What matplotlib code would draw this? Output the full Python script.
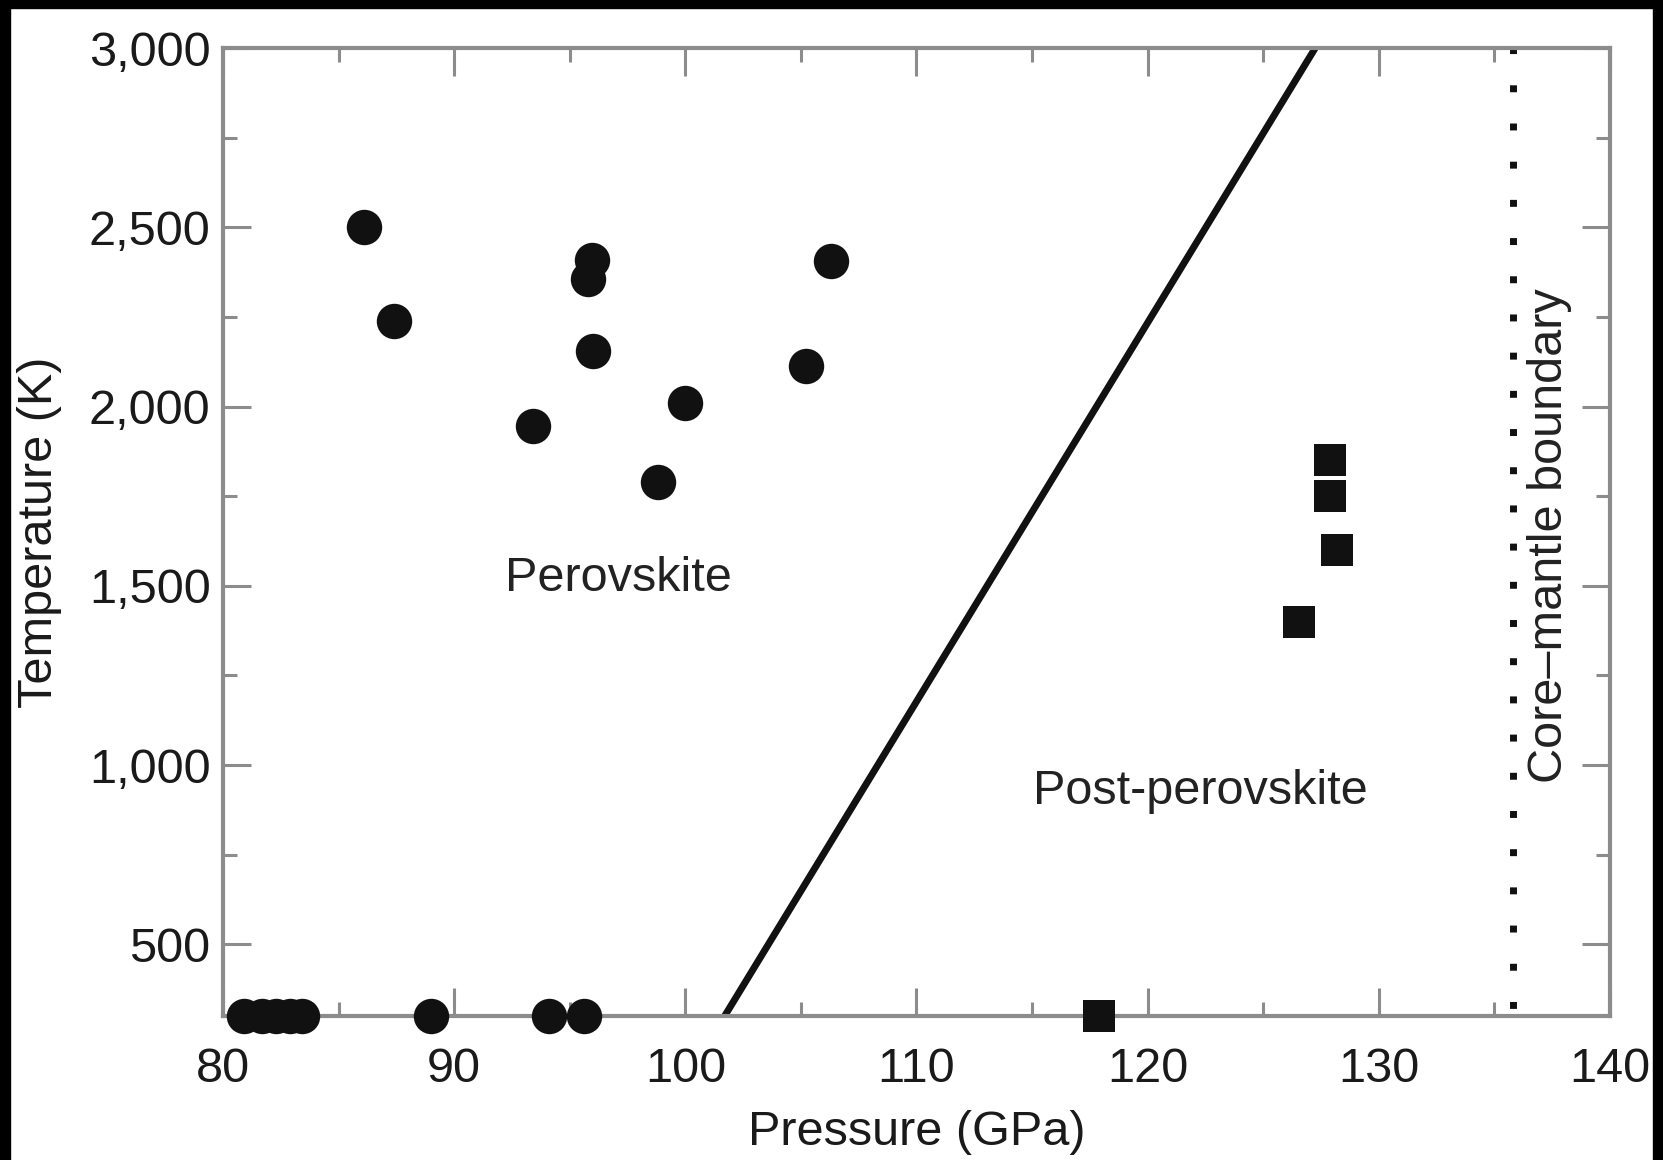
import matplotlib.pyplot as plt
from matplotlib.patches import Rectangle
from matplotlib.ticker import FuncFormatter, MultipleLocator

plt.rcParams["font.family"] = ["Liberation Sans", "DejaVu Sans"]

# Perovskite runs (circles)
pv_pressure = [86.1, 87.4, 95.95, 95.8, 96.0, 93.4, 100.0, 98.8, 105.2, 106.3,
               80.9, 81.7, 82.3, 82.9, 83.4, 89.0, 94.1, 95.6]
pv_temp = [2500, 2240, 2410, 2355, 2155, 1945, 2010, 1790, 2112, 2405,
           300, 300, 300, 300, 300, 300, 300, 300]

# Post-perovskite runs (squares)
ppv_pressure = [117.9, 126.55, 127.9, 127.9, 128.2]
ppv_temp = [300, 1400, 1850, 1750, 1600]

# Phase boundary and core-mantle boundary
boundary_pressure = [101.7, 127.25]
boundary_temp = [300, 3000]
cmb_pressure = 135.8

fig = plt.figure(figsize=(16.63, 11.6), dpi=100)
ax = fig.add_axes([0.1341, 0.1241, 0.8340, 0.8345])

gray = "#8c8c8c"

ax.plot(boundary_pressure, boundary_temp, color="#111111", lw=5,
        solid_capstyle="butt", zorder=2)
ax.plot([cmb_pressure, cmb_pressure], [3000, 300], color="#111111", lw=5,
        linestyle=(0.2, (1, 4.5)), dash_capstyle="butt", zorder=2)

ax.plot(pv_pressure, pv_temp, "o", color="#111111", ms=25.5, mew=0,
        clip_on=False, zorder=3)
ax.plot(ppv_pressure, ppv_temp, "s", color="#111111", ms=23, mew=0,
        clip_on=False, zorder=3)

ax.text(97.1, 1520, "Perovskite", fontsize=35, ha="center", va="center",
        color="#222222")
ax.text(122.3, 926, "Post-perovskite", fontsize=35, ha="center", va="center",
        color="#222222")
ax.text(137.4, 1640, "Core\u2013mantle boundary", fontsize=35, rotation=90,
        ha="center", va="center", color="#222222")

ax.set_xlim(80, 140)
ax.set_ylim(300, 3000)
ax.xaxis.set_major_locator(MultipleLocator(10))
ax.xaxis.set_minor_locator(MultipleLocator(5))
ax.yaxis.set_major_locator(MultipleLocator(500))
ax.yaxis.set_minor_locator(MultipleLocator(250))
ax.yaxis.set_major_formatter(FuncFormatter(lambda v, p: f"{int(v):,}"))

ax.tick_params(which="both", direction="in", top=True, right=True,
               color=gray, width=2.2, labelsize=35, labelcolor="#1a1a1a")
ax.tick_params(which="major", length=20)
ax.tick_params(which="minor", length=10)
ax.tick_params(axis="x", which="major", pad=22)
ax.tick_params(axis="y", which="major", pad=9)

for s in ax.spines.values():
    s.set_color(gray)
    s.set_linewidth(3)

ax.set_xlabel("Pressure (GPa)", fontsize=35, color="#1a1a1a", va="top")
ax.set_ylabel("Temperature (K)", fontsize=35, color="#1a1a1a")
ax.xaxis.set_label_coords(0.5, -0.097)
ax.yaxis.set_label_coords(-0.116, 0.5)

# black frame around the scanned figure
for r in [(0, 0, 10 / 1663, 1), (1653 / 1663, 0, 10 / 1663, 1),
          (0, 1 - 7.5 / 1160, 1, 7.5 / 1160)]:
    fig.add_artist(Rectangle(r[:2], r[2], r[3], transform=fig.transFigure,
                             color="black", zorder=10))

fig.savefig("out.png", dpi=100)
